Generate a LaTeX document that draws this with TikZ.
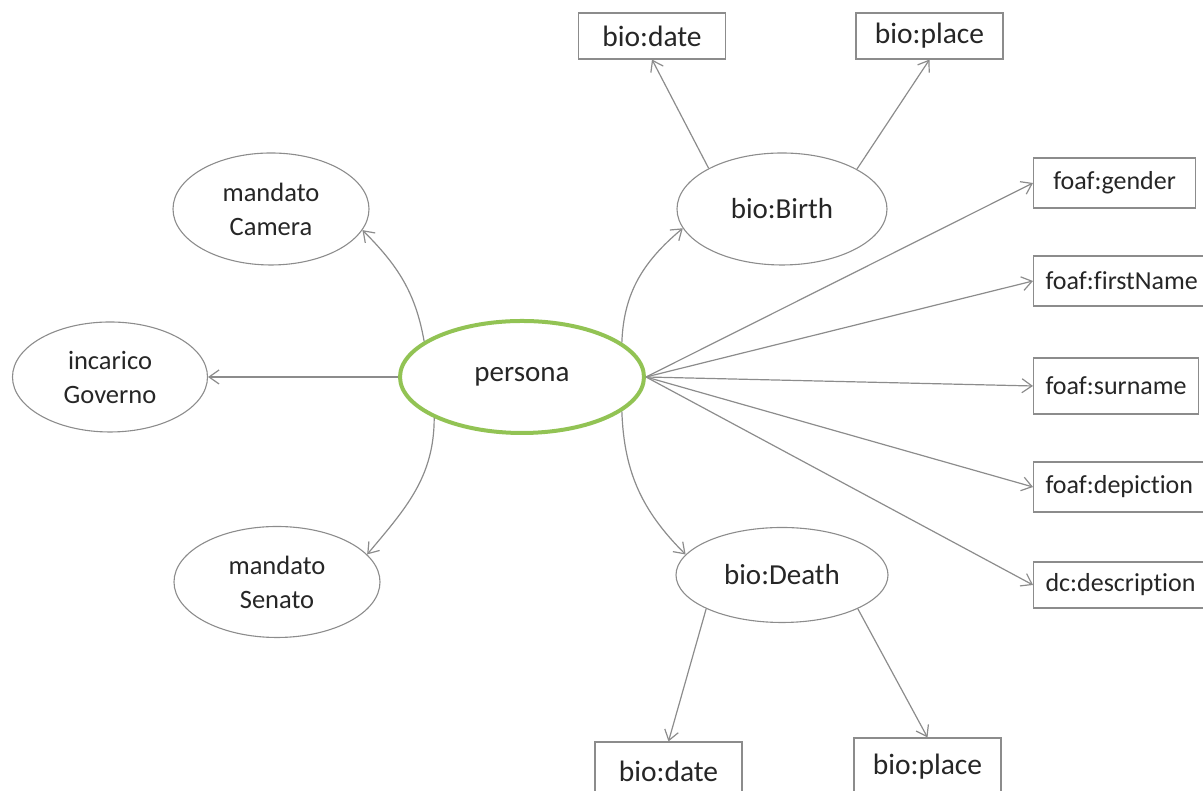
\documentclass[tikz,border=0pt]{standalone}
\usepackage{fontspec}
\setmainfont{Carlito}[Ligatures={NoCommon,NoContextual},Contextuals=NoAlternate]
\usetikzlibrary{arrows.meta,shapes.geometric}
\definecolor{linegray}{RGB}{140,140,140}
\definecolor{persgreen}{RGB}{146,195,84}

\begin{document}
\begin{tikzpicture}[x=1pt,y=1pt,->,>={Straight Barb[length=10pt,width=14pt]},
                    line width=1.2pt,draw=linegray,
                    cls/.style={ellipse,draw=linegray,line width=1.1pt,inner sep=0pt,
                                align=center,text=black!85,font=\fontsize{29}{35}\selectfont},
                    sidecls/.style={cls,font=\fontsize{26.5}{34}\selectfont},
                    litbox/.style={rectangle,draw=linegray,line width=1.1pt,text=black!85,
                                   minimum width=147pt,minimum height=46pt,
                                   font=\fontsize{29.5}{35}\selectfont},
                    propbox/.style={rectangle,draw=linegray,line width=1.1pt,anchor=west,
                                    text=black!85,inner xsep=12pt,minimum height=50pt,
                                    font=\fontsize{26}{32}\selectfont}]

	\useasboundingbox (0,0) rectangle (1203,791);

  	\node[cls,draw=persgreen,line width=4pt,minimum width=244pt,minimum height=112pt]
  	      (persona) at (522,414)			{persona};
  	\node[sidecls,minimum width=196pt,minimum height=112pt] (camera)  at (271,582)	{mandato\\Camera};
  	\node[sidecls,minimum width=195pt,minimum height=110pt] (governo) at (110,414)	{incarico\\Governo};
  	\node[sidecls,minimum width=206pt,minimum height=111pt] (senato)  at (277,209)	{mandato\\Senato};
  	\node[cls,minimum width=210pt,minimum height=112pt] (birth) at (782,582)	{bio:Birth};
  	\node[cls,minimum width=212pt,minimum height=95pt]  (death) at (782,216)	{bio:Death};

	\node[litbox] (datetop)  at (652,755)		{bio:date};
	\node[litbox] (placetop) at (929.5,755)		{bio:place};
	\node[litbox,minimum height=58pt] (datebot)  at (668.5,20)	{bio:date};
	\node[litbox,minimum height=58pt] (placebot) at (927.5,24)	{bio:place};

	\node[propbox,minimum width=162pt] (gender) at (1033,608)	{foaf:gender};
	\node[propbox] (firstname)   at (1033,510)			{foaf:firstName};
	\node[propbox,minimum height=56pt] (surname) at (1033,405)	{foaf:surname};
	\node[propbox] (depiction)   at (1033,304)			{foaf:depict\kern0pt ion};
	\node[propbox,minimum height=46pt] (description) at (1033,206)	{dc:descript\kern0pt ion};

  	\path (persona.160) edge [out=100,in=-45]	(camera.-13);
	\path (persona.west) edge			(governo.east);
	\path (persona.205) edge [out=-90,in=50]	(senato.17);
	\path (persona.19)  edge [out=88,in=-140]	(birth.191);
	\path (persona.-19) edge [out=-88,in=135]	(death.168);

	\path (birth.151) edge				(datetop.south);
	\path (birth.28)  edge				(placetop.south);
	\path (death.204) edge				(datebot.north);
	\path (death.-24) edge				(placebot.north);

	\path (persona.east) edge			(gender.west);
	\path (persona.east) edge			(firstname.west);
	\path (persona.east) edge			(surname.west);
	\path (persona.east) edge			(depiction.west);
	\path (persona.east) edge			(description.west);

\end{tikzpicture}
\end{document}
